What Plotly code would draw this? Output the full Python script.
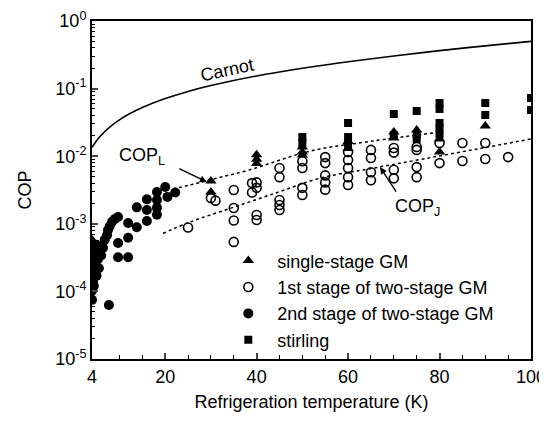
import plotly.graph_objects as go

FONT = "Liberation Sans, Arial, sans-serif"

# Carnot curve
carnot_T = [4, 5, 6, 8, 10, 12, 15, 20, 25, 30, 40, 50, 60, 70, 80, 90, 100]
carnot_cop = [0.0135, 0.0169, 0.0204, 0.0274, 0.0345, 0.0417, 0.0526, 0.0714,
              0.0909, 0.111, 0.154, 0.200, 0.250, 0.304, 0.364, 0.429, 0.500]

# COP_L and COP_J dotted trend lines
copL_T = [21.7, 25.4, 30, 38.5, 51.7, 65, 80.1]
copL_cop = [0.00327, 0.00375, 0.0045, 0.0063, 0.0119, 0.0166, 0.0228]
copJ_T = [19.5, 25.4, 35, 45, 54, 65, 76, 88, 100]
copJ_cop = [0.00072, 0.00106, 0.00176, 0.00298, 0.00476, 0.00656, 0.0090, 0.0127, 0.0180]

# single-stage GM (triangles)
single_T = [4.0, 4.0, 30, 30, 40, 40, 40, 50, 50, 50, 60, 60, 70, 70, 75, 80, 80, 90]
single_cop = [0.00058, 0.00043, 0.0043, 0.00295, 0.0105, 0.0090, 0.0078, 0.0137,
              0.0115, 0.0104, 0.0165, 0.0130, 0.0228, 0.0186, 0.0244, 0.0180, 0.0115, 0.028]

# 1st stage of two-stage GM (open circles)
first_T = [25, 30, 31, 35, 35, 35, 35, 39, 40, 39, 40, 40, 40,
           45, 45, 45, 45, 45, 50, 50, 50, 50, 55, 55, 55, 55, 55,
           60, 60, 60, 60, 60, 65, 65, 65, 65, 70, 70, 70, 70,
           75, 75, 75, 75, 80, 80, 85, 85, 90, 90, 95]
first_cop = [0.00088, 0.00240, 0.00220, 0.00316, 0.00171, 0.00112, 0.00054, 0.0040, 0.0041,
             0.0029, 0.0034, 0.00135, 0.00114,
             0.0067, 0.0049, 0.00225, 0.0019, 0.0016, 0.0084, 0.0067, 0.0034, 0.00267,
             0.0097, 0.0079, 0.0052, 0.0041, 0.0032,
             0.0115, 0.0088, 0.0067, 0.0049, 0.00375, 0.0124, 0.0094, 0.0058, 0.0044,
             0.0132, 0.0113, 0.0063, 0.0047,
             0.0137, 0.0124, 0.0069, 0.0049, 0.0157, 0.0079, 0.0157, 0.0085, 0.0157, 0.0091, 0.0097]

# 2nd stage of two-stage GM (filled circles)
second_T = [4.0, 4.0, 4.2, 4.3, 4.5, 4.6, 4.8, 4.2, 5.0, 5.3, 5.5, 5.8, 6.0, 6.4, 4.1, 4.1,
            4.4, 5.0, 7.7, 6.8, 7.3, 7.5, 7.9, 8.4, 9.0, 9.7, 9.7, 11.9, 9.7, 11.9,
            11.9, 13.8, 13.8, 16.0, 16.0, 16.0, 18.2, 18.2, 18.2, 18.2, 20.0, 20.5, 22.2]
second_cop = [0.000075, 0.000102, 0.00014, 0.00019, 0.00026, 0.00032, 0.00041, 0.00043,
              0.00049, 0.00030, 0.00022, 0.00040, 0.00034, 0.00044, 0.00023, 0.00030,
              0.00012, 0.00017, 0.000063, 0.00058, 0.00068, 0.00081, 0.00093, 0.00107,
              0.00118, 0.00126, 0.00052, 0.00062, 0.00032, 0.00032,
              0.00103, 0.00175, 0.00089, 0.0023, 0.0016, 0.0011, 0.00295, 0.00225, 0.00172,
              0.00136, 0.0035, 0.0025, 0.0029]

# stirling (squares)
stirling_T = [50, 50, 60, 60, 60, 70, 70, 75, 75, 75, 80, 80, 80, 80, 80, 90, 90, 100, 100]
stirling_cop = [0.0192, 0.0157, 0.031, 0.0192, 0.0147, 0.0421, 0.0206, 0.0466, 0.0206, 0.018,
                0.0612, 0.050, 0.031, 0.026, 0.021, 0.0612, 0.0407, 0.0726, 0.0482]

x_ticks = [4, 20, 40, 60, 80, 100]
x_minor = [10, 15, 25, 30, 35, 45, 50, 55, 65, 70, 75, 85, 90, 95]
y_ticks = [1e-5, 1e-4, 1e-3, 1e-2, 1e-1, 1]
y_ticktext = ["10<sup>-5</sup>", "10<sup>-4</sup>", "10<sup>-3</sup>", "10<sup>-2</sup>",
              "10<sup>-1</sup>", "10<sup>0</sup>"]
y_minor = [m * 10 ** e for e in range(-5, 0) for m in range(2, 10)]

fig = go.Figure()
fig.add_trace(go.Scatter(x=carnot_T, y=carnot_cop, mode="lines", line=dict(color="black", width=1.6),
                         line_shape="spline", showlegend=False, hoverinfo="skip"))
fig.add_trace(go.Scatter(x=copL_T, y=copL_cop, mode="lines", line=dict(color="black", width=1.5, dash="dot"),
                         line_shape="spline", showlegend=False))
fig.add_trace(go.Scatter(x=copJ_T, y=copJ_cop, mode="lines", line=dict(color="black", width=1.5, dash="dot"),
                         line_shape="spline", showlegend=False))

fig.add_trace(go.Scatter(x=single_T, y=single_cop, mode="markers", name="single-stage GM",
                         marker=dict(symbol="triangle-up", size=10, color="black")))
fig.add_trace(go.Scatter(x=first_T, y=first_cop, mode="markers", name="1st stage of two-stage GM",
                         marker=dict(symbol="circle-open", size=9, color="black", line=dict(width=1.6))))
fig.add_trace(go.Scatter(x=second_T, y=second_cop, mode="markers", name="2nd stage of two-stage GM",
                         marker=dict(symbol="circle", size=10, color="black")))
fig.add_trace(go.Scatter(x=stirling_T, y=stirling_cop, mode="markers", name="stirling",
                         marker=dict(symbol="square", size=8, color="black")))

# the page body adds an 8px offset, so the figure is 8px smaller and shifted
fig.update_layout(
    width=539, height=413,
    margin=dict(l=84, r=16, t=13, b=62, autoexpand=False),
    paper_bgcolor="white", plot_bgcolor="white",
    font=dict(family=FONT, size=17, color="black"),
    showlegend=True,
    legend=dict(x=0.29, y=0.345, xanchor="left", yanchor="top", bgcolor="rgba(0,0,0,0)",
                font=dict(size=18), itemwidth=48, tracegroupgap=0),
)
fig.update_xaxes(range=[4, 100], tickmode="array", tickvals=x_ticks, ticks="inside", ticklen=6,
                 tickwidth=1.5, showline=True, linewidth=2, linecolor="black", mirror=True,
                 showgrid=False, zeroline=False, tickfont=dict(size=18), automargin=False,
                 minor=dict(tickmode="array", tickvals=x_minor, ticks="inside", ticklen=4,
                            tickwidth=1.2, tickcolor="black", showgrid=False),
                 title=dict(text="Refrigeration temperature (K)", font=dict(size=18), standoff=10))
fig.update_yaxes(type="log", range=[-5, 0], tickmode="array", tickvals=y_ticks, ticktext=y_ticktext,
                 ticks="inside", ticklen=6, tickwidth=1.5, showline=True, linewidth=2,
                 linecolor="black", mirror=True, showgrid=False, zeroline=False,
                 tickfont=dict(size=18), automargin=False,
                 minor=dict(tickmode="array", tickvals=y_minor, ticks="inside", ticklen=3,
                            tickwidth=1, tickcolor="black", showgrid=False),
                 title=dict(text="COP", font=dict(size=18), standoff=19))

fig.add_annotation(x=33.5, y=-0.72, xref="x", yref="y", text="Carnot", showarrow=False,
                   textangle=-12, font=dict(size=18))
fig.add_annotation(x=9.5, y=-2.0, xref="x", yref="y", text="COP<sub>L</sub>", showarrow=False,
                   xanchor="left", font=dict(size=18))
fig.add_annotation(x=29.1, y=-2.382, xref="x", yref="y", text="", showarrow=True,
                   ax=-29, ay=-14, arrowhead=2, arrowsize=1, arrowwidth=1.4, arrowcolor="black")
fig.add_annotation(x=69.8, y=-2.76, xref="x", yref="y", text="COP<sub>J</sub>", showarrow=False,
                   xanchor="left", font=dict(size=18))
fig.add_annotation(x=67.0, y=-2.16, xref="x", yref="y", text="", showarrow=True,
                   ax=17, ay=26, arrowhead=2, arrowsize=1, arrowwidth=1.4, arrowcolor="black")

fig.write_html("out.html")
